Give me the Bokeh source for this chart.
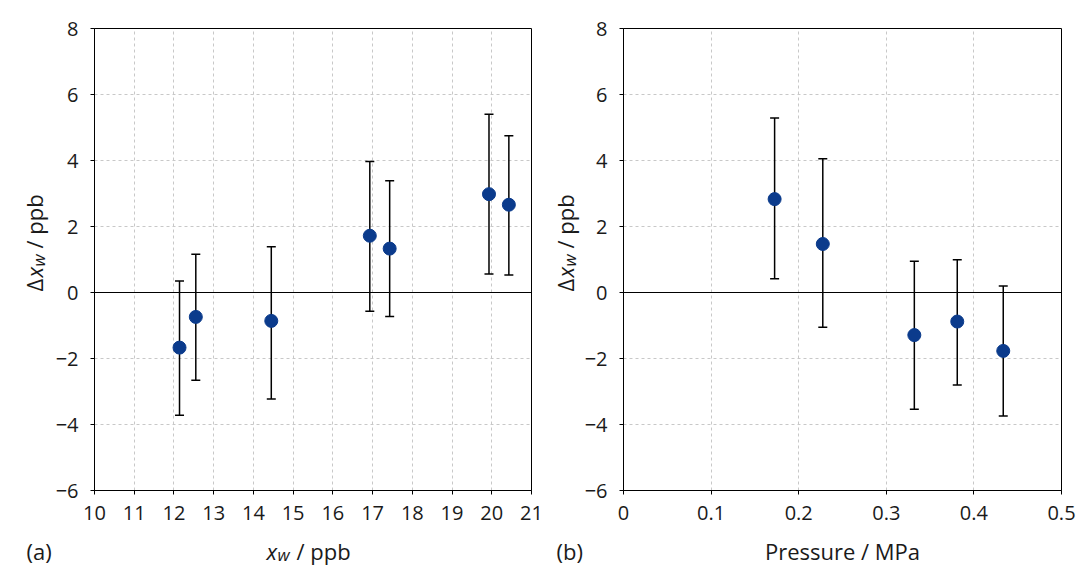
import math
from bokeh.plotting import figure
from bokeh.models import ColumnDataSource, Whisker, TeeHead, Span, Label, FixedTicker
from bokeh.layouts import row, column
from bokeh.embed import file_html
from bokeh.resources import INLINE

# ---- data ----
xw_ppb = [12.14, 12.55, 14.45, 16.93, 17.43, 19.93, 20.43]
dxw_a = [-1.67, -0.74, -0.86, 1.72, 1.33, 2.98, 2.66]
upper_a = [0.35, 1.16, 1.39, 3.97, 3.39, 5.40, 4.75]
lower_a = [-3.72, -2.66, -3.23, -0.57, -0.73, 0.56, 0.53]

pressure_mpa = [0.1725, 0.2275, 0.332, 0.381, 0.4335]
dxw_b = [2.83, 1.47, -1.29, -0.88, -1.77]
upper_b = [5.29, 4.05, 0.95, 0.99, 0.20]
lower_b = [0.42, -1.05, -3.54, -2.80, -3.74]

x_ticks_a = [10, 11, 12, 13, 14, 15, 16, 17, 18, 19, 20, 21]
x_ticks_b = [0, 0.1, 0.2, 0.3, 0.4, 0.5]
x_tick_labels_b = ["0", "0.1", "0.2", "0.3", "0.4", "0.5"]
y_ticks = [-6, -4, -2, 0, 2, 4, 6, 8]
y_tick_labels = ["\u22126", "\u22124", "\u22122", "0", "2", "4", "6", "8"]

FONT = "Open Sans"
TICK_SIZE = "20px"
LABEL_SIZE = "22px"
SUB_SIZE = "17px"
MARKER = "#0b3b8c"
GRID = "#c8c8c8"
TXT = "#1a1a1a"

BORDER_TOP = 28
BORDER_BOTTOM = 43
BORDER_LEFT = 41
TOP_H = BORDER_TOP + 462 + BORDER_BOTTOM   # height of the chart row
BOT_H = 46                                 # height of the x-label row
BASE = 29                                  # label anchor above bottom of that row


def make_panel(x, y, up, lo, xr, xticks, xlabels, frame_w, border_right):
    p = figure(x_range=xr, y_range=(-6, 8), frame_width=frame_w, frame_height=462,
               min_border_left=BORDER_LEFT, min_border_right=border_right,
               min_border_top=BORDER_TOP, min_border_bottom=BORDER_BOTTOM,
               output_backend="svg", toolbar_location=None,
               background_fill_color="white", border_fill_color="white")
    p.outline_line_color = "black"
    p.outline_line_alpha = 1.0
    p.outline_line_width = 1

    p.xaxis.ticker = FixedTicker(ticks=xticks)
    p.yaxis.ticker = FixedTicker(ticks=y_ticks)
    if xlabels is not None:
        p.xaxis.major_label_overrides = {t: l for t, l in zip(xticks, xlabels)}
    p.yaxis.major_label_overrides = {t: l for t, l in zip(y_ticks, y_tick_labels)}
    for ax in (p.xaxis[0], p.yaxis[0]):
        ax.axis_line_color = "black"
        ax.axis_line_width = 1
        ax.major_tick_line_color = "black"
        ax.major_tick_out = 4
        ax.major_tick_in = 0
        ax.minor_tick_line_color = None
        ax.major_label_text_font = FONT
        ax.major_label_text_font_size = TICK_SIZE
        ax.major_label_text_color = TXT
    p.xaxis.major_label_standoff = 11
    p.yaxis.major_label_standoff = 12

    for g in (p.xgrid[0], p.ygrid[0]):
        g.grid_line_color = GRID
        g.grid_line_dash = "3 3"
        g.grid_line_width = 1
    p.xgrid.ticker = FixedTicker(ticks=xticks)
    p.ygrid.ticker = FixedTicker(ticks=y_ticks)

    p.add_layout(Span(location=0, dimension="width", line_color="black", line_width=1.2))

    src = ColumnDataSource(dict(x=x, y=y, upper=up, lower=lo))
    w = Whisker(source=src, base="x", upper="upper", lower="lower", dimension="height",
                line_color="black", line_width=1.5,
                upper_head=TeeHead(size=9, line_color="black", line_width=1.5),
                lower_head=TeeHead(size=9, line_color="black", line_width=1.5))
    p.add_layout(w)
    p.scatter("x", "y", source=src, size=13, fill_color=MARKER, line_color=MARKER)
    return p


def blank(width, height):
    b = figure(width=width, height=height, min_border=0,
               x_axis_location=None, y_axis_location=None,
               output_backend="svg", toolbar_location=None,
               background_fill_color="white", border_fill_color="white")
    b.outline_line_color = None
    b.grid.visible = False
    return b


def lab(p, text, x, y, size=LABEL_SIZE, style="normal", align="left", angle=0.0):
    p.add_layout(Label(x=x, y=y, x_units="screen", y_units="screen", text=text,
                       text_font=FONT, text_font_size=size, text_font_style=style,
                       text_align=align, text_baseline="alphabetic", angle=angle,
                       text_color=TXT))


def ylabel(p, bx, by):
    a = math.pi / 2
    lab(p, "\u0394", bx, by, angle=a)
    lab(p, "x", bx, by + 14, style="italic", angle=a)
    lab(p, "w", bx + 4.5, by + 25, size=SUB_SIZE, style="italic", angle=a)
    lab(p, "/ ppb", bx, by + 43, angle=a)


# panel (a)
yl_a = blank(52, TOP_H)
ylabel(yl_a, 33, 199)
p1 = make_panel(xw_ppb, dxw_a, upper_a, lower_a, (10, 21), x_ticks_a, None, 437, 14)
xl_a = blank(544, BOT_H)
lab(xl_a, "(a)", 26, BASE)
lab(xl_a, "x", 266, BASE, style="italic")
lab(xl_a, "w", 277, BASE - 4, size=SUB_SIZE, style="italic")
lab(xl_a, "/ ppb", 296, BASE)

# panel (b)
yl_b = blank(36, TOP_H)
ylabel(yl_b, 19, 199)
p2 = make_panel(pressure_mpa, dxw_b, upper_b, lower_b, (0, 0.5), x_ticks_b, x_tick_labels_b, 438, 21)
xl_b = blank(536, BOT_H)
lab(xl_b, "(b)", 12, BASE)
lab(xl_b, "Pressure / MPa", 298, BASE, align="center")

layout = column(row(yl_a, p1, yl_b, p2), row(xl_a, xl_b))
open("out.html", "w").write(file_html(layout, INLINE))
